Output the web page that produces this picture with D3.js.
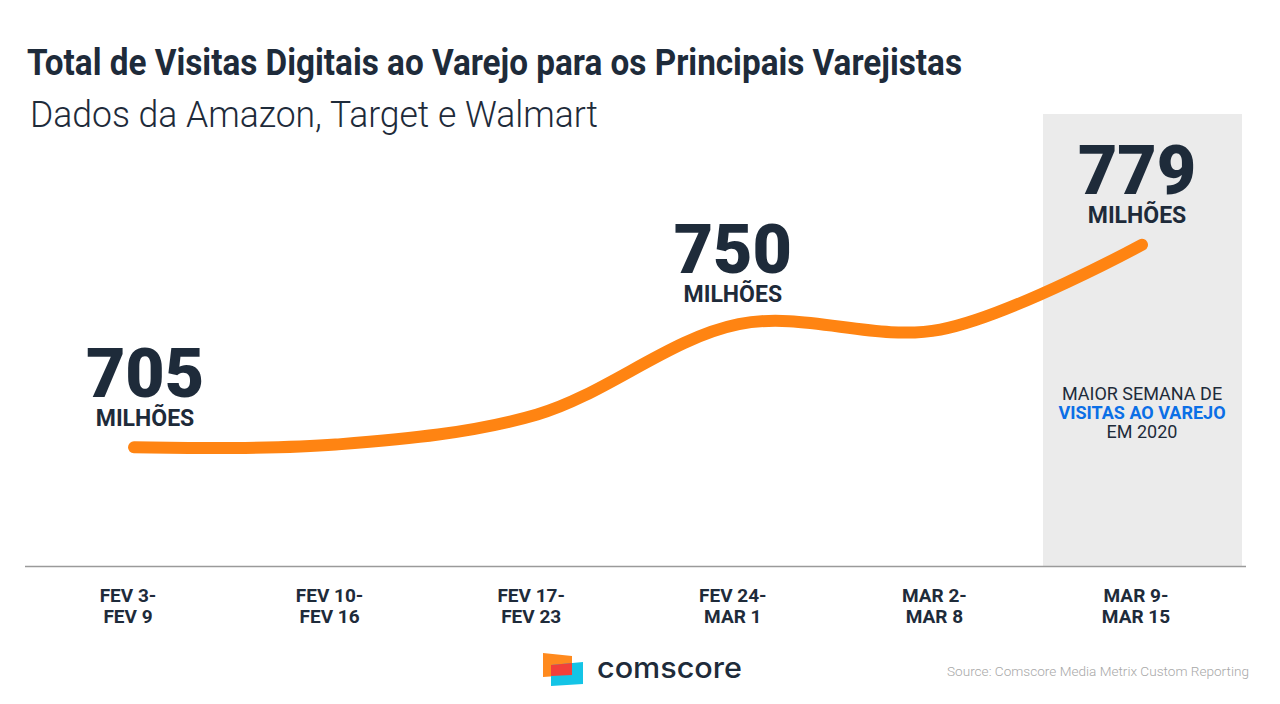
<!DOCTYPE html>
<html>
<head>
<meta charset="utf-8">
<script src="https://cdn.jsdelivr.net/npm/d3@7"></script>
<style>
  body { margin: 0; background: #fff; }
  svg { display: block; font-family: Roboto, "Noto Sans", sans-serif; }
</style>
</head>
<body>
<div id="chart"></div>
<script>
const width = 1280, height = 704;

// data
const weeks = ["FEV 3-|FEV 9", "FEV 10-|FEV 16", "FEV 17-|FEV 23", "FEV 24-|MAR 1", "MAR 2-|MAR 8", "MAR 9-|MAR 15"];
const visits = [705, 706, 717, 750, 748, 779];
const labelled = [0, 3, 5]; // weeks that get a big number

const dark = "#1e2b3a";
const orange = "#ff8412";

const svg = d3.select("#chart")
  .append("svg")
    .attr("width", width)
    .attr("height", height);

const xScale = d3.scalePoint()
  .domain(weeks)
  .range([134, 1142]);

const yScale = d3.scaleLinear()
  .domain([700, 780])
  .range([461, 242]);

// highlighted last week
svg.append("rect")
  .attr("x", xScale(weeks[5]) - 99)
  .attr("y", 114)
  .attr("width", 199)
  .attr("height", 566 - 114)
  .attr("fill", "#ebebeb");

// baseline
svg.append("line")
  .attr("x1", 25).attr("x2", 1246)
  .attr("y1", 566.5).attr("y2", 566.5)
  .attr("stroke", "#9a9a9a")
  .attr("stroke-width", 1.5);

// title + subtitle
svg.append("text")
  .text("Total de Visitas Digitais ao Varejo para os Principais Varejistas")
  .attr("x", 27).attr("y", 75)
  .attr("textLength", 935)
  .attr("lengthAdjust", "spacingAndGlyphs")
  .attr("fill", dark)
  .style("font-size", "36px")
  .style("font-weight", 700);

svg.append("text")
  .text("Dados da Amazon, Target e Walmart")
  .attr("x", 30).attr("y", 127)
  .attr("textLength", 568)
  .attr("lengthAdjust", "spacingAndGlyphs")
  .attr("fill", dark)
  .style("font-size", "36px")
  .style("font-weight", 300);

// the line
const line = d3.line()
  .x((d, i) => xScale(weeks[i]))
  .y(d => yScale(d))
  .curve(d3.curveCatmullRom.alpha(0.5));

svg.append("path")
  .datum(visits)
  .attr("d", line)
  .attr("fill", "none")
  .attr("stroke", orange)
  .attr("stroke-width", 12)
  .attr("stroke-linecap", "round");

// big value labels
const valueOffsets = { 0: [11, 50], 3: [-6, 51], 5: [-5, 51] }; // dx, dy above the point
const annots = svg.selectAll(".annot")
  .data(labelled)
  .join("g")
    .attr("class", "annot")
    .attr("transform", i => {
      const o = valueOffsets[i];
      return `translate(${xScale(weeks[i]) + o[0]}, ${yScale(visits[i]) - o[1]})`;
    });

annots.append("text")
  .text(i => visits[i])
  .attr("text-anchor", "middle")
  .attr("fill", dark)
  .style("font-size", "68px")
  .style("font-weight", 900);

annots.append("text")
  .text("MILHÕES")
  .attr("y", 29)
  .attr("text-anchor", "middle")
  .attr("fill", dark)
  .style("font-size", "23px")
  .style("font-weight", 700);

// box note
const note = svg.append("text")
  .attr("text-anchor", "middle")
  .attr("fill", dark)
  .style("font-size", "18px");
note.append("tspan").attr("x", 1142).attr("y", 400).text("MAIOR SEMANA DE");
note.append("tspan").attr("x", 1142).attr("y", 419).text("VISITAS AO VAREJO")
  .attr("fill", "#0b6fe6").style("font-weight", 700);
note.append("tspan").attr("x", 1142).attr("y", 438).text("EM 2020");

// x labels
const xLabels = svg.selectAll(".xlab")
  .data(weeks)
  .join("text")
    .attr("class", "xlab")
    .attr("text-anchor", "middle")
    .attr("fill", dark)
    .style("font-size", "19px")
    .style("font-weight", 700);

xLabels.selectAll("tspan")
  .data(d => d.split("|").map(t => ({ t, key: d })))
  .join("tspan")
    .attr("x", d => xScale(d.key) - 6)
    .attr("y", (d, i) => 602 + i * 21)
    .text(d => d.t);

// footer logo
const logo = svg.append("g");
logo.append("path")
  .attr("d", "M543,653 L572,656 L572,675 L543,677 Z")
  .attr("fill", "#ff8a1e");
logo.append("path")
  .attr("d", "M551,665 L583,662 L583,684 L551,686 Z")
  .attr("fill", "#14c4e6");
logo.append("path")
  .attr("d", "M551,665 L572,663 L572,675 L551,676 Z")
  .attr("fill", "#f2403a");

svg.append("text")
  .text("comscore")
  .attr("x", 597).attr("y", 678)
  .attr("textLength", 145)
  .attr("lengthAdjust", "spacingAndGlyphs")
  .attr("fill", dark)
  .style("font-family", "Inter, 'Noto Sans', sans-serif")
  .style("font-size", "29px")
  .style("font-weight", 500);

svg.append("text")
  .text("Source: Comscore Media Metrix Custom Reporting")
  .attr("x", 947).attr("y", 676)
  .attr("textLength", 302)
  .attr("lengthAdjust", "spacingAndGlyphs")
  .attr("fill", "#a8a8a8")
  .style("font-size", "13px")
  .style("font-weight", 300);
</script>
</body>
</html>
